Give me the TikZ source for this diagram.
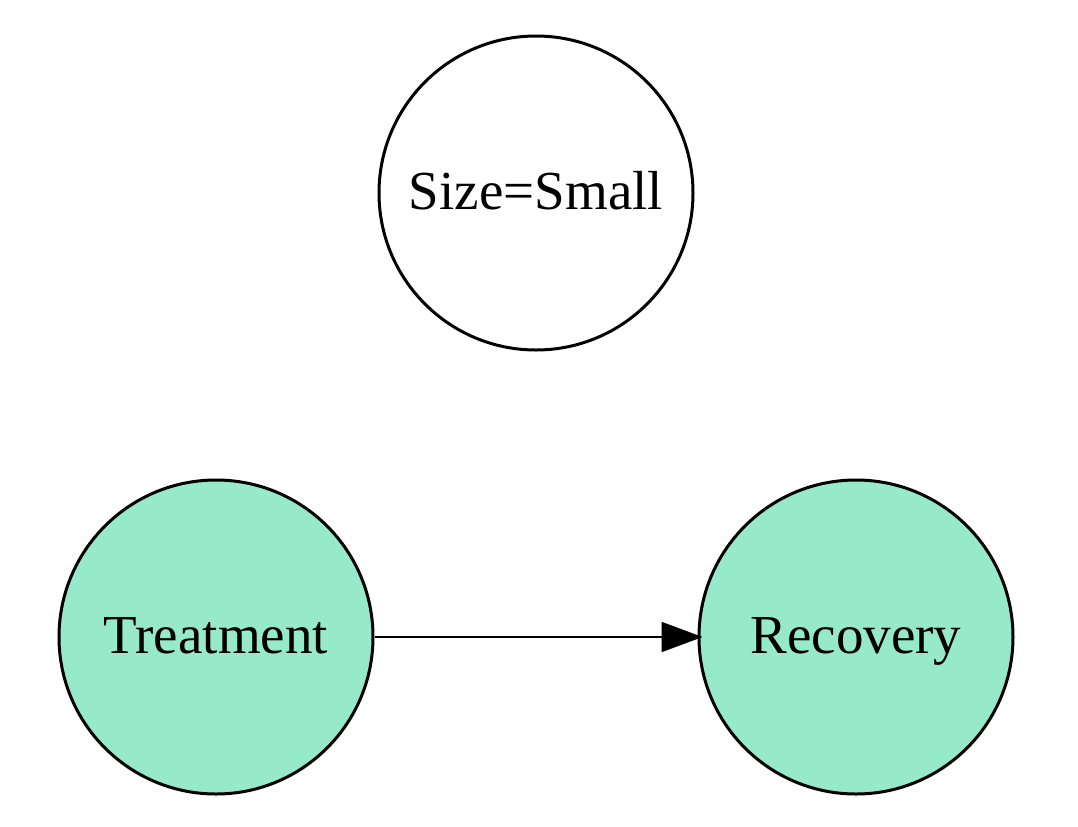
\documentclass[tikz,border=0pt]{standalone}
\usepackage{fontspec}
\setmainfont{Liberation Serif}
\usetikzlibrary{arrows.meta}
\definecolor{mint}{RGB}{150,233,203}
\tikzset{
  var/.style={circle, draw=black, line width=1.5pt, minimum size=157pt, inner sep=0pt,
    text depth=0pt, text height=16pt, font=\fontsize{27.5}{33}\selectfont},
  obs/.style={var, fill=mint},
  edge/.style={line width=1pt, shorten >=-2.5pt, -{Triangle[length=20.5pt,width=15pt]}}
}
\begin{document}
\begin{tikzpicture}[x=0.5pt,y=-0.5pt]
\useasboundingbox (0,0) rectangle (1078,826);
\node[var] (size) at (536,193) {Size=Small};
\node[obs] (treat) at (216,637) {Treatment};
\node[obs] (rec) at (856,637) {Recovery};
\draw[edge] (treat) -- (rec);
\end{tikzpicture}
\end{document}
